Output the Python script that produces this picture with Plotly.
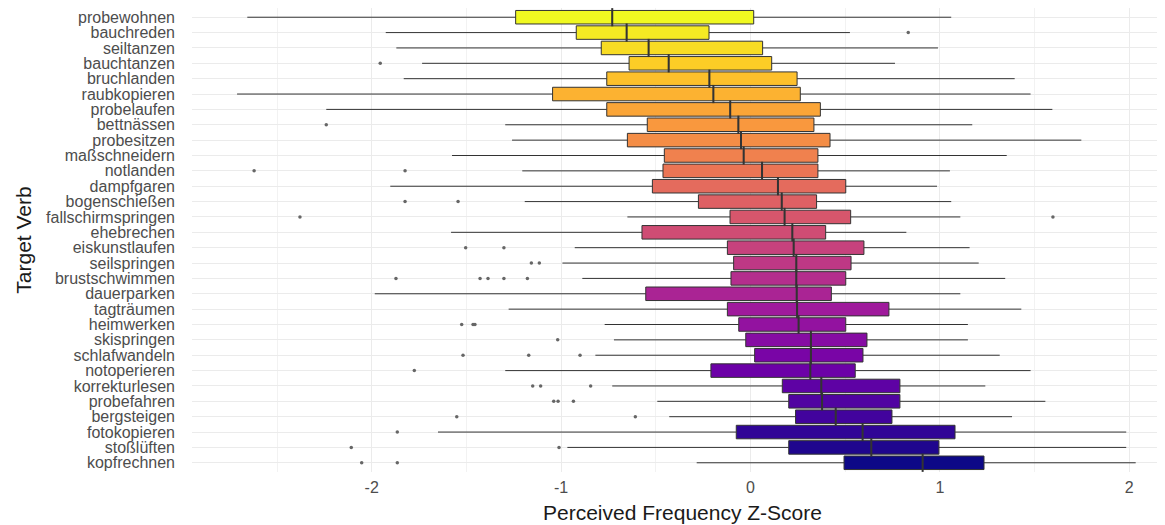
import plotly.graph_objects as go
from plotly.colors import sample_colorscale

verbs = ["probewohnen", "bauchreden", "seiltanzen", "bauchtanzen", "bruchlanden",
         "raubkopieren", "probelaufen", "bettnässen", "probesitzen", "maßschneidern",
         "notlanden", "dampfgaren", "bogenschießen", "fallschirmspringen", "ehebrechen",
         "eiskunstlaufen", "seilspringen", "brustschwimmen", "dauerparken", "tagträumen",
         "heimwerken", "skispringen", "schlafwandeln", "notoperieren", "korrekturlesen",
         "probefahren", "bergsteigen", "fotokopieren", "stoßlüften", "kopfrechnen"]

lower = [-2.657, -1.926, -1.870, -1.734, -1.831, -2.711, -2.240, -1.295, -1.259, -1.576,
         -1.205, -1.902, -1.192, -0.650, -1.581, -0.928, -0.993, -0.888, -1.984, -1.277,
         -0.770, -0.721, -0.819, -1.295, -0.730, -0.492, -0.429, -1.650, -0.967, -0.284]
q1 = [-1.240, -0.920, -0.788, -0.641, -0.759, -1.045, -0.759, -0.545, -0.650, -0.455,
      -0.462, -0.518, -0.275, -0.108, -0.573, -0.122, -0.089, -0.103, -0.553, -0.122,
      -0.062, -0.025, 0.022, -0.209, 0.168, 0.202, 0.238, -0.075, 0.202, 0.494]
median = [-0.730, -0.654, -0.538, -0.432, -0.217, -0.196, -0.107, -0.064, -0.050, -0.036,
          0.061, 0.145, 0.165, 0.180, 0.221, 0.228, 0.242, 0.242, 0.244, 0.246,
          0.254, 0.319, 0.319, 0.316, 0.374, 0.378, 0.450, 0.592, 0.638, 0.909]
q3 = [0.017, -0.219, 0.064, 0.112, 0.246, 0.263, 0.369, 0.335, 0.420, 0.356,
      0.356, 0.503, 0.349, 0.529, 0.397, 0.599, 0.531, 0.503, 0.427, 0.731,
      0.503, 0.615, 0.594, 0.553, 0.789, 0.789, 0.747, 1.080, 0.995, 1.233]
upper = [1.060, 0.525, 0.990, 0.763, 1.395, 1.479, 1.594, 1.171, 1.747, 1.353,
         1.053, 0.985, 1.060, 1.108, 0.823, 1.157, 1.205, 1.345, 1.108, 1.430,
         1.148, 1.148, 1.316, 1.479, 1.240, 1.557, 1.381, 1.984, 1.984, 2.034]
outliers = [[], [0.833], [], [-1.955], [], [], [], [-2.240], [], [],
            [-2.621, -1.824], [], [-1.824, -1.544], [-2.379, 1.597], [],
            [-1.504, -1.302], [-1.157, -1.115], [-1.872, -1.428, -1.386, -1.302, -1.178], [], [],
            [-1.525, -1.465, -1.455], [-1.018], [-1.518, -1.171, -0.900], [-1.775], [-1.150, -1.108, -0.844],
            [-1.039, -1.016, -0.935], [-1.551, -0.608], [-1.865], [-2.108, -1.011], [-2.053, -1.865]]

xticks = [-2, -1, 0, 1, 2]
xtick_labels = ["-2", "-1", "0", "1", "2"]

n = len(verbs)
colors = sample_colorscale("Plasma", [(n - 1 - i) / (n - 1) for i in range(n)])

fig = go.Figure()
for i, v in enumerate(verbs):
    fig.add_trace(go.Box(
        y=[v], q1=[q1[i]], median=[median[i]], q3=[q3[i]],
        lowerfence=[lower[i]], upperfence=[upper[i]],
        orientation="h", fillcolor=colors[i],
        line=dict(color="#333333", width=1), whiskerwidth=0,
        width=0.88, boxpoints=False, showlegend=False, hoverinfo="x+y",
    ))

# thicker median lines
fig.add_trace(go.Scatter(
    x=median, y=verbs, mode="markers", showlegend=False, hoverinfo="skip",
    marker=dict(symbol="line-ns", size=13, line=dict(color="#333333", width=2)),
))

ox, oy = [], []
for i, v in enumerate(verbs):
    for val in outliers[i]:
        ox.append(val)
        oy.append(v)
fig.add_trace(go.Scatter(
    x=ox, y=oy, mode="markers", showlegend=False,
    marker=dict(size=3.5, color="#666666"),
))

font_family = "Liberation Sans, Arial, sans-serif"
fig.update_layout(
    width=1165, height=525,
    margin=dict(l=184, r=0, t=0, b=61),
    paper_bgcolor="white", plot_bgcolor="white",
    boxmode="overlay",
    font=dict(family=font_family, color="#4D4D4D", size=16),
    xaxis=dict(
        range=[-2.949, 2.231], tickvals=xticks, ticktext=xtick_labels,
        showgrid=True, gridcolor="#EBEBEB", gridwidth=1, zeroline=False,
        showline=False, ticks="", ticklabelstandoff=4,
        tickfont=dict(size=16, color="#4D4D4D"),
        minor=dict(dtick=0.5, tick0=0, showgrid=True, gridcolor="#F2F2F2", gridwidth=1),
        title=dict(text="Perceived Frequency Z-Score", standoff=10,
                   font=dict(size=21, color="#1A1A1A")),
    ),
    yaxis=dict(
        type="category", categoryorder="array", categoryarray=verbs,
        tickmode="array", tickvals=verbs, ticktext=verbs,
        range=[n - 0.4, -0.6], showgrid=True, gridcolor="#EBEBEB", gridwidth=1,
        zeroline=False, showline=False, ticks="", ticklabelstandoff=16,
        tickfont=dict(size=16, color="#4D4D4D"),
        title=dict(text="Target Verb", standoff=8,
                   font=dict(size=21, color="#1A1A1A")),
    ),
)

fig.write_html("out.html")
